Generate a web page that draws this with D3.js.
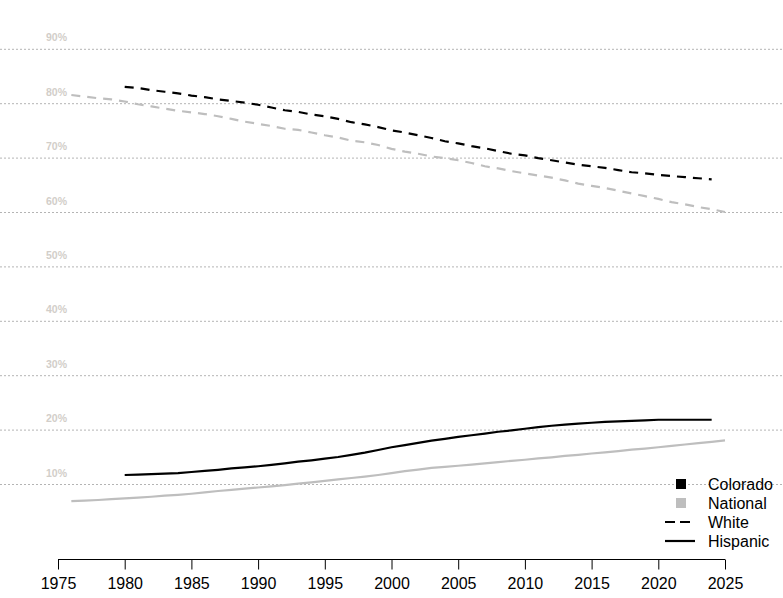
<!DOCTYPE html>
<html>
<head>
<meta charset="utf-8">
<script src="https://cdn.jsdelivr.net/npm/d3@7"></script>
<style>
  html, body { margin: 0; padding: 0; background: #fff; }
  svg { display: block; font-family: "Liberation Sans", Arial, sans-serif; }
</style>
</head>
<body>
<svg id="chart" width="783" height="598"></svg>
<script>
// ---- Data ----
const yearsColorado = d3.range(1980, 2025);   // 1980..2024
const yearsNational = d3.range(1976, 2026);   // 1976..2025

const whiteColorado = [83.1, 82.9, 82.5, 82.2, 81.9, 81.5, 81.2, 80.8, 80.5, 80.2,
  79.8, 79.3, 78.8, 78.5, 78.0, 77.7, 77.2, 76.6, 76.2, 75.7,
  75.1, 74.7, 74.2, 73.7, 73.1, 72.7, 72.2, 71.8, 71.3, 70.8,
  70.5, 70.0, 69.6, 69.2, 68.8, 68.5, 68.2, 67.8, 67.4, 67.2,
  66.9, 66.7, 66.5, 66.3, 66.1];

const hispanicColorado = [11.75, 11.8, 11.9, 12.0, 12.1, 12.3, 12.5, 12.7, 12.95, 13.15,
  13.35, 13.6, 13.9, 14.2, 14.45, 14.75, 15.05, 15.45, 15.85, 16.35,
  16.85, 17.25, 17.65, 18.05, 18.4, 18.75, 19.05, 19.35, 19.7, 19.95,
  20.25, 20.55, 20.8, 21.0, 21.2, 21.35, 21.5, 21.6, 21.7, 21.8,
  21.9, 21.9, 21.9, 21.9, 21.9];

const whiteNational = [81.6, 81.3, 81.0, 80.8, 80.4, 79.9, 79.5, 79.1, 78.7, 78.4,
  78.1, 77.7, 77.2, 76.7, 76.3, 75.9, 75.4, 75.2, 74.7, 74.2,
  73.8, 73.2, 72.9, 72.4, 71.7, 71.2, 70.8, 70.3, 70.0, 69.6,
  69.1, 68.5, 68.1, 67.6, 67.2, 66.8, 66.4, 65.9, 65.3, 64.9,
  64.5, 64.0, 63.5, 63.0, 62.5, 61.9, 61.5, 61.0, 60.6, 60.1];

const hispanicNational = [6.95, 7.05, 7.15, 7.3, 7.45, 7.6, 7.75, 7.95, 8.1, 8.3,
  8.55, 8.8, 9.0, 9.25, 9.45, 9.65, 9.9, 10.15, 10.4, 10.65,
  10.95, 11.2, 11.45, 11.75, 12.1, 12.45, 12.75, 13.05, 13.25, 13.45,
  13.65, 13.9, 14.1, 14.35, 14.55, 14.8, 15.0, 15.25, 15.45, 15.7,
  15.9, 16.15, 16.4, 16.6, 16.85, 17.1, 17.35, 17.6, 17.85, 18.1];

const xTicks = [1975, 1980, 1985, 1990, 1995, 2000, 2005, 2010, 2015, 2020, 2025];
const yTicks = [10, 20, 30, 40, 50, 60, 70, 80, 90];

const legendItems = [
  {label: "Colorado", type: "square", color: "#000000"},
  {label: "National", type: "square", color: "#bebebe"},
  {label: "White", type: "dash", color: "#000000"},
  {label: "Hispanic", type: "solid", color: "#000000"}
];

// ---- Layout ----
const svg = d3.select("#chart");
const W = 783;
const x = d3.scaleLinear().domain([1975, 2025]).range([58, 725]);
const y = d3.scaleLinear().domain([10, 90]).range([484.5, 49.3]);

// gridlines
svg.append("g").selectAll("line").data(yTicks).join("line")
  .attr("x1", 0).attr("x2", W)
  .attr("y1", d => y(d)).attr("y2", d => y(d))
  .attr("stroke", "#b4b4b4").attr("stroke-width", 1)
  .attr("stroke-dasharray", "2,2");

// y labels
svg.append("g").selectAll("text").data(yTicks).join("text")
  .attr("x", 46).attr("y", d => y(d) - 8)
  .attr("font-size", 10.5).attr("font-weight", "bold")
  .attr("fill", "#d2cec9")
  .text(d => d + "%");

// lines
const line = (years) => d3.line().x((d, i) => x(years[i])).y(d => y(d));

const series = [
  {vals: whiteNational, years: yearsNational, color: "#bebebe", dash: "9,7"},
  {vals: hispanicNational, years: yearsNational, color: "#bebebe", dash: null},
  {vals: whiteColorado, years: yearsColorado, color: "#000000", dash: "9,7"},
  {vals: hispanicColorado, years: yearsColorado, color: "#000000", dash: null}
];
series.forEach(s => {
  svg.append("path").datum(s.vals)
    .attr("d", line(s.years))
    .attr("fill", "none")
    .attr("stroke", s.color)
    .attr("stroke-width", 2.2)
    .attr("stroke-dasharray", s.dash);
});

// x axis
const axis = d3.axisBottom(x).tickValues(xTicks).tickFormat(d3.format("d")).tickSize(10).tickPadding(8);
const gx = svg.append("g").attr("transform", "translate(0,559.5)").call(axis);
gx.select(".domain").attr("d", `M${x(1975)},0H${x(2025)}`).attr("stroke", "#000");
gx.selectAll(".tick line").attr("stroke", "#000");
gx.selectAll(".tick text").attr("font-size", 16).attr("font-family", "Liberation Sans, Arial, sans-serif").attr("fill", "#000");

// legend
const lg = svg.append("g");
legendItems.forEach((it, i) => {
  const cy = 484 + i * 19;
  if (it.type === "square") {
    lg.append("rect").attr("x", 676).attr("y", cy - 5).attr("width", 10).attr("height", 10).attr("fill", it.color);
  } else {
    lg.append("line").attr("x1", 665).attr("x2", 695).attr("y1", cy).attr("y2", cy)
      .attr("stroke", it.color).attr("stroke-width", 2.2)
      .attr("stroke-dasharray", it.type === "dash" ? "10,5" : null);
  }
  lg.append("text").attr("x", 708).attr("y", cy + 5.5).attr("font-size", 16).attr("fill", "#000").text(it.label);
});
</script>
</body>
</html>
